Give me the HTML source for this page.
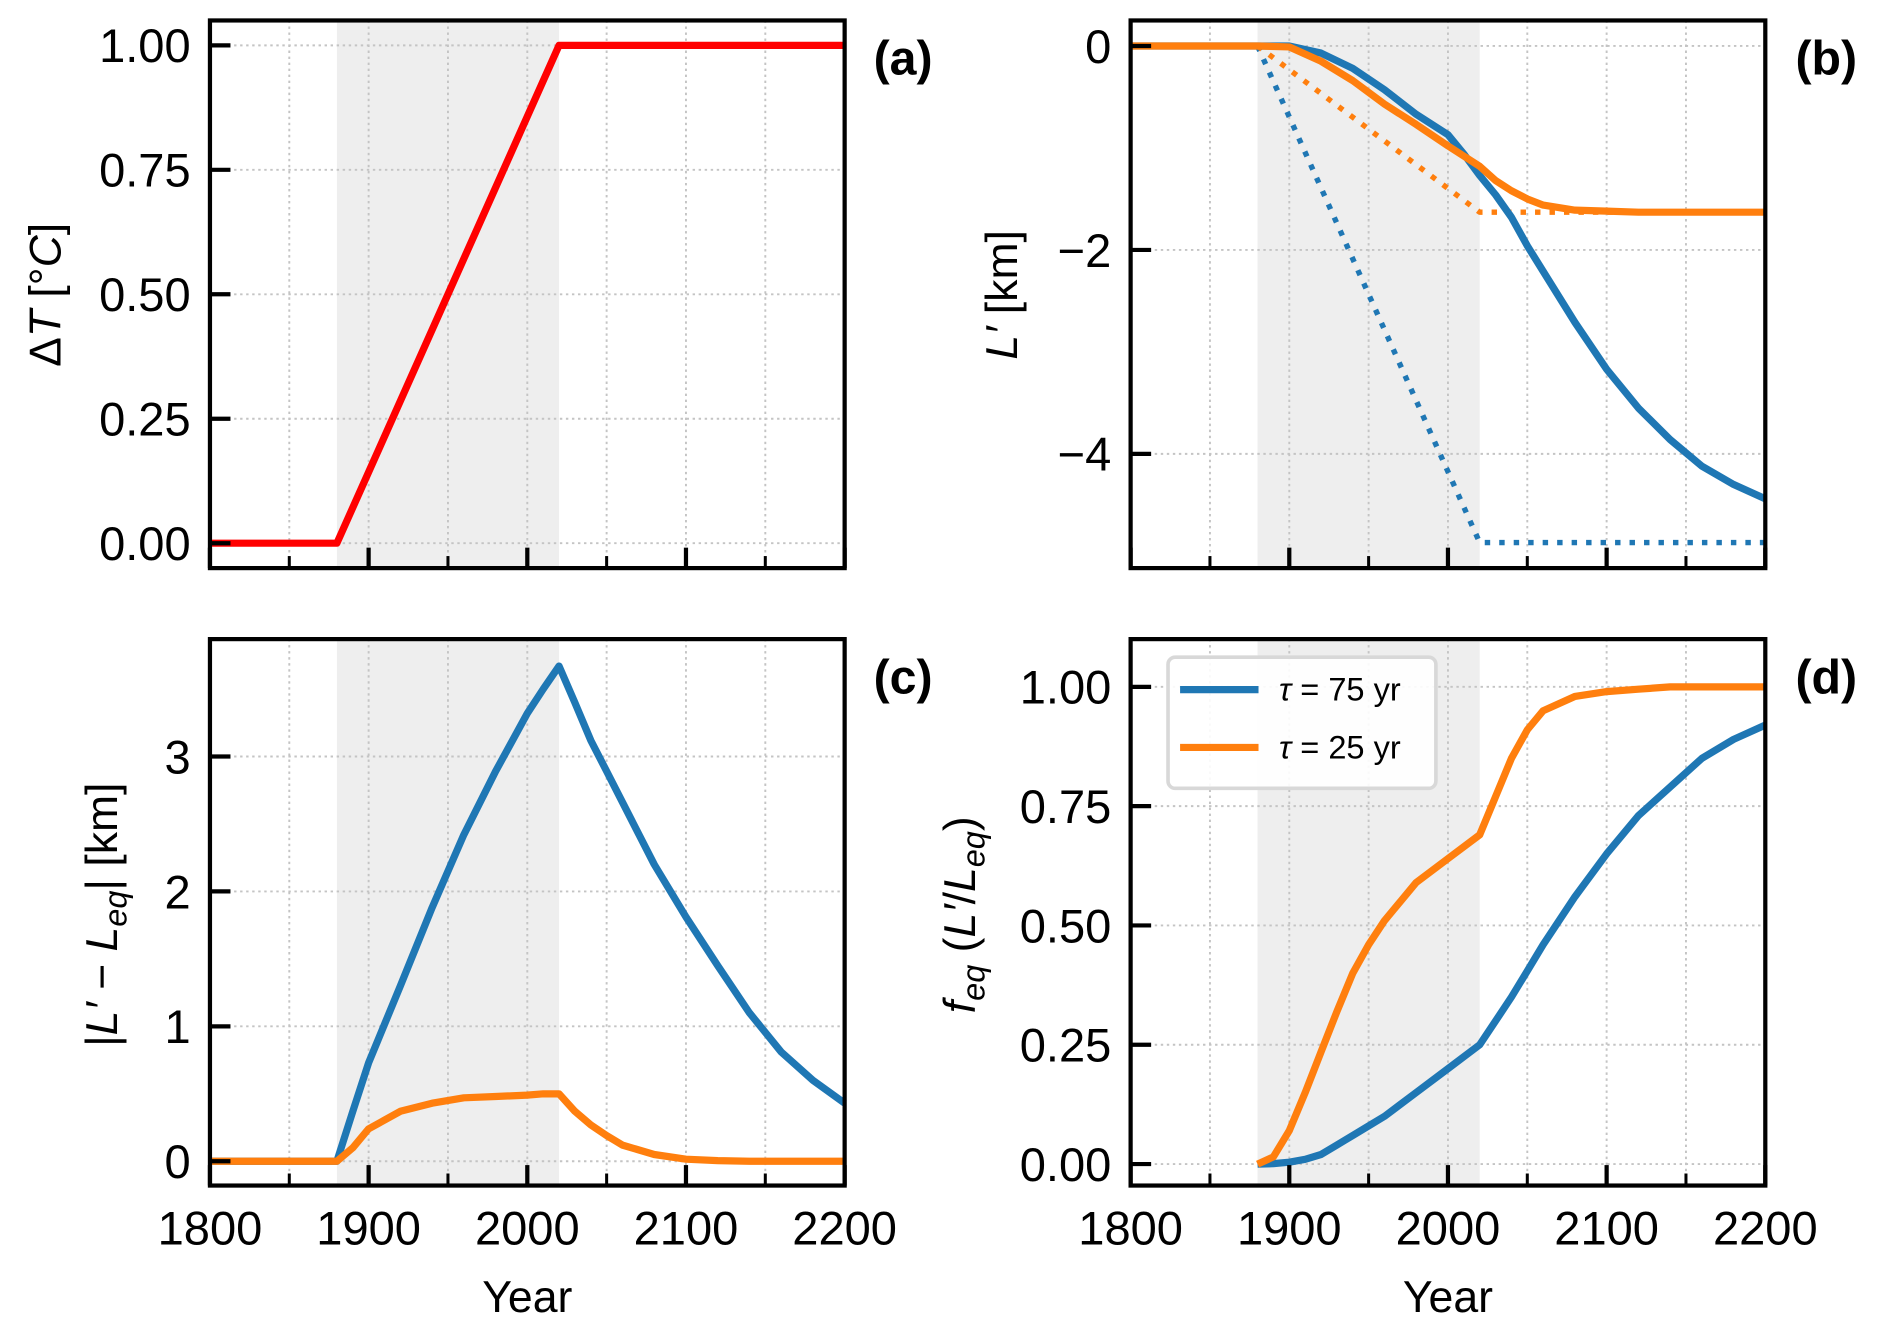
<!DOCTYPE html>
<html><head><meta charset="utf-8"><style>
html,body{margin:0;padding:0;background:#fff;}
svg{display:block;font-family:"Liberation Sans",sans-serif;}
</style></head><body>
<svg id="fig" width="1892" height="1336" viewBox="0 0 1568 1110" preserveAspectRatio="none" xmlns="http://www.w3.org/2000/svg"></svg>
<script>
// ---- data ----
const yearsTemp = [1800, 1880, 2020, 2200];
const dT = [0, 0, 1, 1];

const yearsB = [1800,1880,1900,1920,1940,1960,1980,2000,2010,2020,2030,2040,2050,2060,2080,2100,2120,2140,2160,2180,2200];
const Lblue = [0,0,0,-0.07,-0.22,-0.43,-0.67,-0.87,-1.06,-1.27,-1.46,-1.68,-1.96,-2.21,-2.71,-3.17,-3.55,-3.86,-4.12,-4.3,-4.44];
const Lorange = [0,0,-0.01,-0.15,-0.34,-0.57,-0.77,-0.98,-1.08,-1.18,-1.32,-1.42,-1.5,-1.56,-1.61,-1.62,-1.63,-1.63,-1.63,-1.63,-1.63];
const yearsEq = [1880, 2020, 2200];
const LeqBlue = [0, -4.87, -4.87];
const LeqOrange = [0, -1.63, -1.63];

const yearsC = [1800,1880,1890,1900,1920,1940,1960,1980,2000,2010,2020,2030,2040,2050,2060,2080,2100,2120,2140,2160,2180,2200];
const cBlue = [0,0,0.37,0.73,1.3,1.88,2.42,2.89,3.32,3.5,3.67,3.4,3.12,2.89,2.66,2.2,1.81,1.45,1.1,0.81,0.6,0.43];
const cOrange = [0,0,0.1,0.24,0.37,0.43,0.47,0.48,0.49,0.5,0.5,0.37,0.27,0.19,0.12,0.05,0.015,0.005,0,0,0,0];

const yearsD = [1880,1890,1900,1910,1920,1930,1940,1950,1960,1980,2000,2020,2030,2040,2050,2060,2080,2100,2120,2140,2160,2180,2200];
const dOrange = [0,0.015,0.07,0.15,0.235,0.32,0.4,0.46,0.51,0.59,0.64,0.69,0.77,0.85,0.91,0.95,0.98,0.99,0.995,1.0,1.0,1.0,1.0];
const dBlue = [0,0.001,0.004,0.01,0.02,0.04,0.06,0.08,0.1,0.15,0.2,0.25,0.3,0.35,0.405,0.46,0.56,0.65,0.73,0.79,0.85,0.89,0.92];

const xTicks = [1800,1900,2000,2100,2200];
const xMinor = [1850,1950,2050,2150];
const tickA = [0,0.25,0.5,0.75,1.0], tickALab = ["0.00","0.25","0.50","0.75","1.00"];
const tickB = [0,-2,-4], tickBLab = ["0","\u22122","\u22124"];
const tickC = [0,1,2,3], tickCLab = ["0","1","2","3"];
const tickD = [0,0.25,0.5,0.75,1.0], tickDLab = ["0.00","0.25","0.50","0.75","1.00"];

const NS="http://www.w3.org/2000/svg";
const svg=document.getElementById('fig');
function mk(tag,attrs,parent){const e=document.createElementNS(NS,tag);for(const k in attrs)e.setAttribute(k,attrs[k]);(parent||svg).appendChild(e);return e;}
const BLUE="#1f77b4", ORANGE="#ff7f0e";

function panel(name,x0,x1,y0,y1,ymin,ymax,yt,ytl,showX){
  const g=mk('g',{});
  
  
  const sx=v=>x0+(v-1800)/400*(x1-x0);
  const sy=v=>y1-(v-ymin)/(ymax-ymin)*(y1-y0);
  const sh=mk('rect',{x:sx(1880),y:y0,width:sx(2020)-sx(1880),height:y1-y0,fill:'#eeeeee'},g);
  
  
  xTicks.concat(xMinor).forEach(t=>{mk('line',{x1:sx(t),x2:sx(t),y1:y0,y2:y1,stroke:'#c4c4c4','stroke-width':1.6,'stroke-dasharray':'2,3'},g);});
  yt.forEach(t=>{mk('line',{x1:x0,x2:x1,y1:sy(t),y2:sy(t),stroke:'#c4c4c4','stroke-width':1.6,'stroke-dasharray':'2,3'},g);});
  return {g,sx,sy,draw(){
    mk('rect',{x:x0,y:y0,width:x1-x0,height:y1-y0,fill:'none',stroke:'#000','stroke-width':3.5},g);
    xTicks.forEach(t=>mk('line',{x1:sx(t),x2:sx(t),y1:y1,y2:y1-17,stroke:'#000','stroke-width':3.5},g));
    xMinor.forEach(t=>mk('line',{x1:sx(t),x2:sx(t),y1:y1,y2:y1-10,stroke:'#000','stroke-width':2.5},g));
    yt.forEach((t,i)=>{mk('line',{x1:x0,x2:x0+17,y1:sy(t),y2:sy(t),stroke:'#000','stroke-width':3.5},g);
      const tx=mk('text',{x:x0-16,y:sy(t)+14,'text-anchor':'end','font-size':39},g);tx.textContent=ytl[i];
      });
    if(showX) xTicks.forEach(t=>{const tx=mk('text',{x:sx(t),y:y1+49,'text-anchor':'middle','font-size':39},g);tx.textContent=t;
      });
  }};
}
function line(p,xs,ys,color,dash,name){
  const d=xs.map((x,i)=>(i?'L':'M')+p.sx(x).toFixed(1)+','+p.sy(ys[i]).toFixed(1)).join(' ');
  const a={d,fill:'none',stroke:color,'stroke-width':dash?4.5:6,'stroke-linejoin':'round'};
  if(dash)a['stroke-dasharray']='4.5,7.5';
  const e=mk('path',a,p.g);
  
  
}
function label(txt,x,y,name){const t=mk('text',{x,y,'font-size':40,'font-weight':'bold'});t.textContent=txt;
  }

// (a)
const pa=panel('panel-a',174,700,17,472,-0.05,1.05,tickA,tickALab,false);
line(pa,yearsTemp,dT,'#ff0000',false,'temperature-line');
pa.draw();
// (b)
const pb=panel('panel-b',937,1463,17,472,-5.12,0.25,tickB,tickBLab,false);
line(pb,yearsEq,LeqBlue,BLUE,true,'leq-blue-dotted');
line(pb,yearsEq,LeqOrange,ORANGE,true,'leq-orange-dotted');
line(pb,yearsB,Lblue,BLUE,false,'l-prime-blue');
line(pb,yearsB,Lorange,ORANGE,false,'l-prime-orange');
pb.draw();
// (c)
const pc=panel('panel-c',174,700,531,985,-0.18,3.87,tickC,tickCLab,true);
line(pc,yearsC,cBlue,BLUE,false,'disequilibrium-blue');
line(pc,yearsC,cOrange,ORANGE,false,'disequilibrium-orange');
pc.draw();
// (d)
const pd=panel('panel-d',937,1463,531,985,-0.045,1.1,tickD,tickDLab,true);
line(pd,yearsD,dBlue,BLUE,false,'feq-blue');
line(pd,yearsD,dOrange,ORANGE,false,'feq-orange');
pd.draw();

label('(a)',724,62,'panel-label-a');
label('(b)',1488,62,'panel-label-b');
label('(c)',724,576,'panel-label-c');
label('(d)',1488,576,'panel-label-d');
</script>
<svg style="position:absolute;left:0;top:0" width="1892" height="1336" viewBox="0 0 1568 1110" preserveAspectRatio="none" xmlns="http://www.w3.org/2000/svg" font-family="Liberation Sans, sans-serif">
  <text transform="translate(50,245) rotate(-90)" text-anchor="middle" font-size="37">Δ<tspan font-style="italic">T</tspan>  [°<tspan font-style="italic">C</tspan>]</text>
  <text transform="translate(843,245) rotate(-90)" text-anchor="middle" font-size="37"><tspan font-style="italic">L′</tspan>  [km]</text>
  <text transform="translate(97,760) rotate(-90)" text-anchor="middle" font-size="37">|<tspan font-style="italic">L′</tspan> − <tspan font-style="italic">L</tspan><tspan font-style="italic" font-size="27" dy="8">eq</tspan><tspan dy="-8">|  [km]</tspan></text>
  <text transform="translate(808,760) rotate(-90)" text-anchor="middle" font-size="37"><tspan font-style="italic">f</tspan><tspan font-style="italic" font-size="27" dy="8">eq</tspan><tspan dy="-8"> (</tspan><tspan font-style="italic">L′</tspan>/<tspan font-style="italic">L</tspan><tspan font-style="italic" font-size="27" dy="8">eq</tspan><tspan dy="-8">)</tspan></text>
  <text x="437" y="1090" text-anchor="middle" font-size="37">Year</text>
  <text x="1200" y="1090" text-anchor="middle" font-size="37">Year</text>
  <g>
    <rect x="968" y="546" width="222" height="109" rx="6" fill="#fff" fill-opacity="0.9" stroke="#d8d8d8" stroke-width="3"/>
    <line x1="978" y1="573" x2="1043" y2="573" stroke="#1f77b4" stroke-width="6"/>
    <text x="1060" y="582" font-size="27"><tspan font-style="italic">τ</tspan> = 75 yr</text>
    <line x1="978" y1="621" x2="1043" y2="621" stroke="#ff7f0e" stroke-width="6"/>
    <text x="1060" y="630" font-size="27"><tspan font-style="italic">τ</tspan> = 25 yr</text>
  </g>
</svg>
</body></html>
